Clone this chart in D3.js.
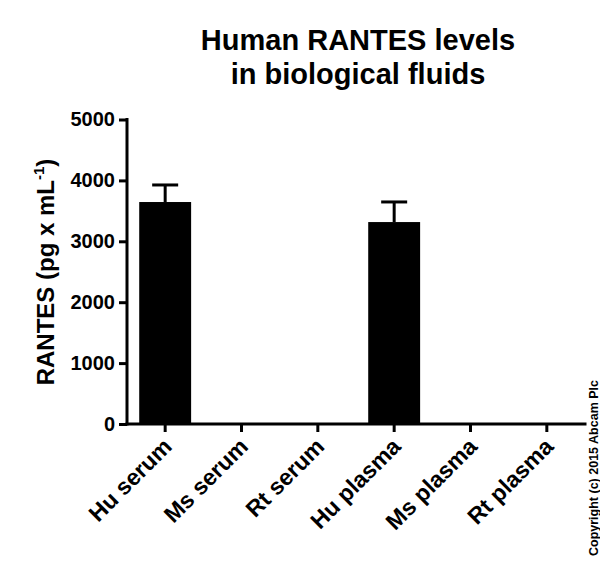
<!DOCTYPE html><html><head><script src="https://cdn.jsdelivr.net/npm/d3@7"></script>
<style>body{margin:0;background:#fff}text{font-family:"Liberation Sans",Arial,sans-serif;font-weight:bold}</style></head><body>
<svg id="c" width="600" height="561"></svg>
<script>
const categories=["Hu serum","Ms serum","Rt serum","Hu plasma","Ms plasma","Rt plasma"];
const values=[3645,0,0,3316,0,0];
const errors=[280,0,0,330,0,0];
const yTicks=[0,1000,2000,3000,4000,5000];
const svg=d3.select("#c");
const L=127,R=585,T=119.5,B=424;
const x=d3.scaleBand().domain(categories).range([L,R]).paddingInner(0.32).paddingOuter(0.16);
const y=d3.scaleLinear().domain([0,5000]).range([B,T]);
const g=svg.append("g");
values.forEach((v,i)=>{
 if(!v)return;
 const cx=x(categories[i])+x.bandwidth()/2;
 g.append("line").attr("x1",cx).attr("x2",cx).attr("y1",y(v)).attr("y2",y(v+errors[i])).attr("stroke","#000").attr("stroke-width",3);
 g.append("line").attr("x1",cx-13).attr("x2",cx+13).attr("y1",y(v+errors[i])).attr("y2",y(v+errors[i])).attr("stroke","#000").attr("stroke-width",3);
 g.append("rect").attr("x",x(categories[i])).attr("width",x.bandwidth()).attr("y",y(v)).attr("height",B-y(v)).attr("fill","#000");
});
const ya=svg.append("g").attr("transform",`translate(${L},0)`).call(d3.axisLeft(y).tickValues(yTicks).tickSize(8).tickPadding(4).tickFormat(d3.format("d")));
const xa=svg.append("g").attr("transform",`translate(0,${B})`).call(d3.axisBottom(x).tickSize(8).tickSizeOuter(0).tickFormat(""));
[ya,xa].forEach(a=>{a.selectAll("path,line").attr("stroke","#000").attr("stroke-width",3);a.select(".domain").attr("stroke-linecap","square");});
ya.select(".domain").attr("d",`M0,${B}V${T}`);
xa.select(".domain").attr("d",`M${L},0H${R}`);
ya.selectAll("text").attr("font-size",20).attr("fill","#000").attr("font-weight","bold").attr("font-family","Liberation Sans, Arial");
categories.forEach(c=>{
 const cx=x(c)+x.bandwidth()/2;
 svg.append("text").attr("transform",`translate(${cx+8},${B+24}) rotate(-45)`).attr("text-anchor","end").attr("font-size",23).text(c);
});
svg.append("text").attr("x",358).attr("y",50).attr("text-anchor","middle").attr("font-size",29).text("Human RANTES levels");
svg.append("text").attr("x",358).attr("y",84).attr("text-anchor","middle").attr("font-size",29).text("in biological fluids");
const yl=svg.append("text").attr("transform",`translate(54,272) rotate(-90)`).attr("text-anchor","middle").attr("font-size",24);
yl.append("tspan").text("RANTES (pg x mL");
yl.append("tspan").attr("font-size",15).attr("dy",-10).text("-1");
yl.append("tspan").attr("dy",10).text(")");
svg.append("text").attr("transform",`translate(598,556) rotate(-90)`).attr("font-size",12.5).text("Copyright (c) 2015 Abcam Plc");
</script></body></html>
